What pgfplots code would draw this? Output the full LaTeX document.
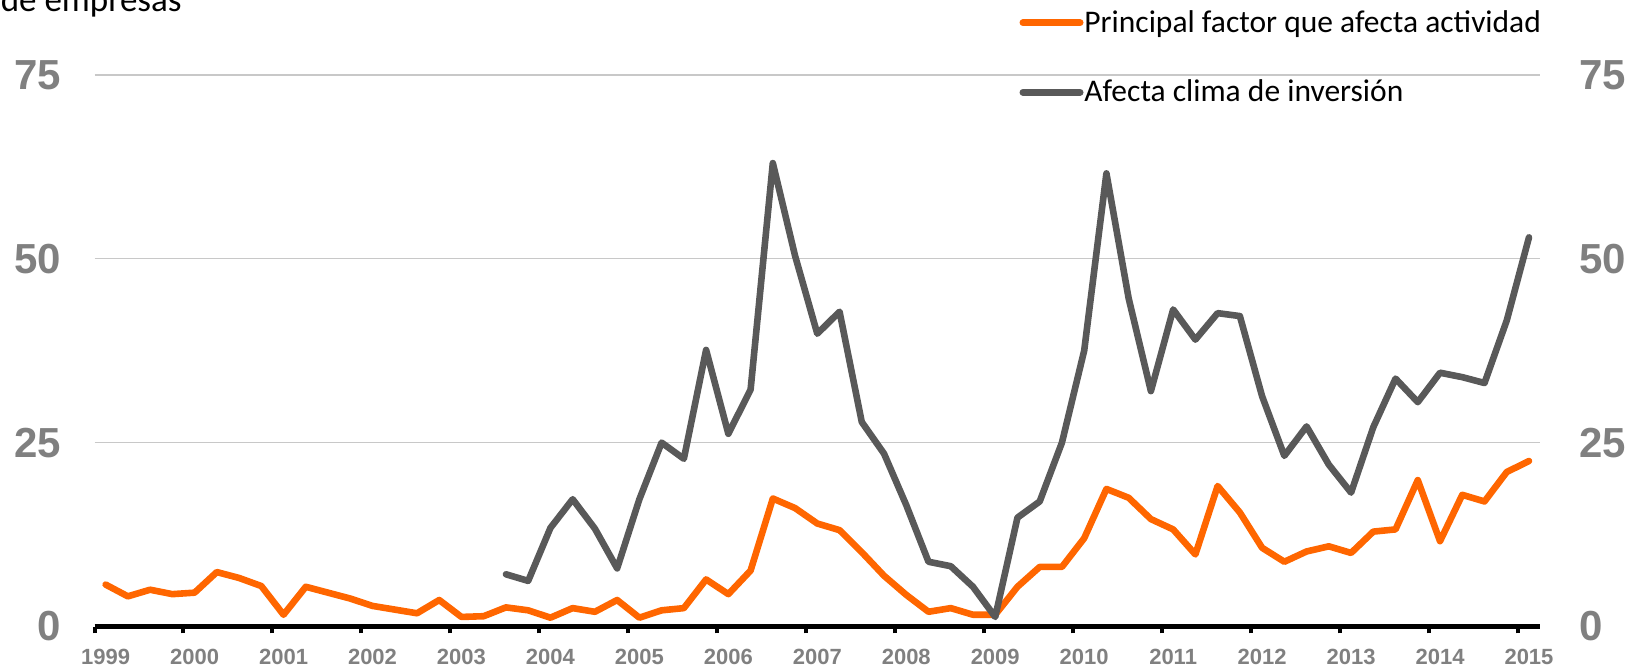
\documentclass[border=0pt]{standalone}
\usepackage{fontspec}
\usepackage{pgfplots}
\pgfplotsset{compat=1.18}
\setmainfont{Liberation Sans}
\newfontfamily\legfont{Carlito}
\definecolor{corange}{HTML}{FF6600}
\definecolor{cgrey}{HTML}{595959}
\definecolor{clab}{HTML}{808080}
\definecolor{cgrid}{HTML}{C8C8C8}
\newcommand{\ylab}{\fontsize{21}{21}\selectfont\bfseries}
\newcommand{\xlab}{\fontsize{11}{11}\selectfont\bfseries}

\begin{document}
\begin{tikzpicture}
\path[use as bounding box] (0pt,0pt) rectangle (814.5pt,333pt);
\begin{axis}[
  at={(47.25pt,19.75pt)}, anchor=south west,
  scale only axis, width=722.8pt, height=275.85pt,
  xmin=-0.5, xmax=64.5, ymin=0, ymax=75,
  axis x line*=bottom,
  y axis line style={draw=none},
  x axis line style={black, line width=2.3pt, -},
  xtick={-0.5,3.5,...,63.5},
  xticklabels={1999,2000,2001,2002,2003,2004,2005,2006,2007,2008,2009,2010,2011,2012,2013,2014,2015},
  tick align=outside, major tick length=3.4pt,
  x tick style={black, line width=2pt},
  xticklabel style={font=\xlab, text=clab, anchor=north, inner sep=0pt, xshift=5.56pt, yshift=-7.5pt},
  ytick={0,25,50,75}, yticklabels={0,25,50,75},
  ytick style={draw=none},
  yticklabel style={font=\ylab, text=clab, anchor=east, inner sep=0pt, xshift=-13.2pt},
  ymajorgrids, grid style={cgrid, line width=0.7pt},
  clip=false,
]
\addplot[corange, line width=3.3pt, line join=round, line cap=round] coordinates {
(0,5.7) (1,4.1) (2,5.0) (3,4.4) (4,4.6) (5,7.4) (6,6.6) (7,5.5)
(8,1.6) (9,5.4) (10,4.6) (11,3.8) (12,2.8) (13,2.3) (14,1.8) (15,3.6)
(16,1.3) (17,1.4) (18,2.6) (19,2.2) (20,1.2) (21,2.5) (22,2.0) (23,3.6)
(24,1.2) (25,2.2) (26,2.5) (27,6.4) (28,4.4) (29,7.6) (30,17.4) (31,16.1)
(32,14.0) (33,13.1) (34,10.1) (35,6.9) (36,4.3) (37,2.0) (38,2.5) (39,1.6)
(40,1.6) (41,5.4) (42,8.1) (43,8.1) (44,12.0) (45,18.7) (46,17.5) (47,14.6)
(48,13.2) (49,9.8) (50,19.1) (51,15.5) (52,10.7) (53,8.8) (54,10.2) (55,10.9)
(56,10.0) (57,12.9) (58,13.2) (59,19.9) (60,11.6) (61,17.9) (62,17.0) (63,21.0)
(64,22.5)};
\addplot[cgrey, line width=3.3pt, line join=round, line cap=round] coordinates {
(18,7.1) (19,6.2) (20,13.4) (21,17.3) (22,13.3) (23,7.9)
(24,17.3) (25,25.0) (26,22.8) (27,37.6) (28,26.2) (29,32.2) (30,63.0) (31,50.4)
(32,39.8) (33,42.8) (34,27.8) (35,23.5) (36,16.5) (37,8.8) (38,8.2) (39,5.4)
(40,1.3) (41,14.8) (42,17.0) (43,25.0) (44,37.5) (45,61.6) (46,44.6) (47,32.0)
(48,43.1) (49,39.0) (50,42.6) (51,42.2) (52,31.3) (53,23.2) (54,27.2) (55,22.0)
(56,18.2) (57,27.1) (58,33.7) (59,30.5) (60,34.5) (61,33.9) (62,33.1) (63,41.6)
(64,52.9)};
\end{axis}
\begin{axis}[
  at={(47.25pt,19.75pt)}, anchor=south west,
  scale only axis, width=722.8pt, height=275.85pt,
  xmin=-0.5, xmax=64.5, ymin=0, ymax=75,
  hide x axis,
  axis y line*=right,
  y axis line style={draw=none},
  ytick={0,25,50,75}, yticklabels={0,25,50,75},
  ytick style={draw=none},
  yticklabel style={font=\ylab, text=clab, anchor=west, inner sep=0pt, xshift=19.45pt},
]
\end{axis}
% legend
\draw[corange, line width=3.5pt, line cap=round] (511.5pt,321.65pt) -- (540pt,321.65pt);
\node[anchor=base west, inner sep=0pt, font=\legfont\fontsize{15.75}{16}\selectfont] at (542pt,316.85pt) {Principal factor que afecta actividad};
\draw[cgrey, line width=3.5pt, line cap=round] (511.5pt,286.85pt) -- (540pt,286.85pt);
\node[anchor=base west, inner sep=0pt, font=\legfont\fontsize{15.75}{16}\selectfont] at (542pt,282.15pt) {Afecta clima de inversión};
\node[anchor=base east, inner sep=0pt, font=\legfont\fontsize{17.5}{18}\selectfont] at (91pt,327pt) {de empresas};
\end{tikzpicture}
\end{document}
